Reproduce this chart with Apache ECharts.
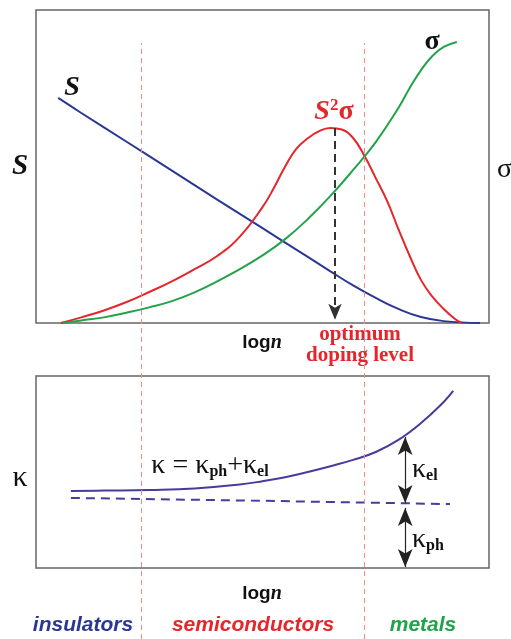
<!DOCTYPE html>
<html>
<head>
<meta charset="utf-8">
<style>
  html, body { margin: 0; padding: 0; background: #fff; }
  #chart { width: 511px; height: 639px; }
</style>
<script src="https://cdn.jsdelivr.net/npm/echarts@6/dist/echarts.min.js"></script>
</head>
<body>
<div id="chart"></div>
<script>
// top panel, x = log n, y = arbitrary units (0-100)
const seebeck = [[4.9, 71.9], [10, 67.1], [20, 57.9], [30, 48.7], [40, 39.4], [50, 30.3], [60, 21.1], [65, 16.5], [70, 12.0], [75, 8.0], [80, 4.5], [85, 1.9], [90, 0.6], [98, 0]]
const powerFactor = [[5.5, 0], [10, 1.8], [15, 4.0], [20, 6.7], [25, 9.9], [30, 13.3], [35, 17.2], [40, 21.4], [45, 27.6], [50, 37.0], [52.5, 43.1], [55, 50.0], [57.5, 55.7], [60, 59.0], [62.5, 61.3], [65, 62.3], [67.5, 61.8], [70, 59.1], [72.5, 53.4], [75, 46.3], [77.5, 39.0], [80, 30.0], [82.5, 21.4], [85, 13.7], [87.5, 8.4], [90, 4.5], [92.5, 1.3], [94, 0]]
const conductivity = [[6, 0], [10, 0.8], [15, 1.8], [20, 3.3], [25, 5.0], [30, 7.0], [35, 9.8], [40, 13.3], [45, 17.2], [50, 21.6], [55, 26.8], [60, 33.2], [65, 40.6], [70, 48.9], [75, 57.8], [80, 68.7], [82.5, 75.1], [85, 80.8], [87.5, 85.3], [90, 88.2], [92.9, 89.8]]
const optimumDoping = [66.0, 62.3]

// bottom panel
const kappaTotal = [[7.7, 40.1], [15, 40.3], [25, 40.6], [35, 41.4], [45, 43.5], [50, 45.2], [55, 47.3], [60, 50.0], [65, 53.0], [70, 56.3], [75, 60.4], [80, 66.7], [85, 75.5], [90, 86.5], [92.1, 92.2]]
const kappaLattice = [[7.7, 36.5], [50.0, 35.0], [91.4, 33.3]]
const kappaArrowX = 81.5
const kappaElRange = [68.2, 33.9]
const kappaPhRange = [31.3, 0.5]

// region borders and names
const regionBounds = [23.2, 72.4]
const regions = ['insulators', 'semiconductors', 'metals']

const serif = '"Liberation Serif", "DejaVu Serif", serif'
const sans = '"Liberation Sans", Arial, sans-serif'
const blue = '#2b3795'
const red = '#e5262b'
const green = '#22a34a'
const purple = '#4a3a9c'

const chart = echarts.init(document.getElementById('chart'))

function axis(gridIndex, max) {
  return { type: 'value', gridIndex: gridIndex, min: 0, max: max, show: false }
}

function txt(x, y, text, style) {
  return {
    type: 'text', x: x, y: y, silent: true,
    style: Object.assign({ text: text, align: 'center', verticalAlign: 'middle' }, style)
  }
}

function curve(name, data, color, extra) {
  return Object.assign({
    name: name, type: 'line', data: data, smooth: 0.45,
    symbol: 'none', z: 3, lineStyle: { color: color, width: 2 }
  }, extra)
}

const regionColors = [blue, red, green]
const regionX = [83, 253, 423]
const kappaRich = {
  k: { font: '28px ' + serif, fill: '#111' },
  s: { font: 'bold 16px ' + serif, fill: '#111', padding: [12, 0, 0, 0] }
}
const lognRich = {
  a: { font: 'bold 19px ' + sans, fill: '#111' },
  b: { font: 'bold italic 20px ' + serif, fill: '#111' }
}

chart.setOption({
  animation: false,
  grid: [
    { left: 36, top: 10, width: 453, height: 313, show: true, borderColor: '#666', borderWidth: 1.5 },
    { left: 36, top: 376, width: 453, height: 192, show: true, borderColor: '#666', borderWidth: 1.5 },
    { left: 36, top: 43, width: 453, bottom: 0 }
  ],
  xAxis: [axis(0, 100), axis(1, 100), axis(2, 100)],
  yAxis: [axis(0, 100), axis(1, 100), axis(2, 1)],
  series: [
    {
      type: 'line', xAxisIndex: 2, yAxisIndex: 2, data: [[0, 0]], symbol: 'none', z: 1,
      lineStyle: { opacity: 0 },
      markLine: {
        silent: true, symbol: 'none', label: { show: false },
        lineStyle: { color: '#f08a8a', width: 1, type: [5, 4] },
        data: regionBounds.map(v => ({ xAxis: v }))
      }
    },
    curve('S', seebeck, blue),
    curve('S2sigma', powerFactor, red, {
      markLine: {
        silent: true, symbol: ['none', 'arrow'], symbolSize: [10, 16], label: { show: false },
        lineStyle: { color: '#333', width: 2, type: [8, 5] },
        data: [[{ coord: optimumDoping }, { coord: [optimumDoping[0], 1.0] }]]
      }
    }),
    curve('sigma', conductivity, green),
    curve('kappa', kappaTotal, purple, { xAxisIndex: 1, yAxisIndex: 1 }),
    {
      name: 'kappa_ph', type: 'line', xAxisIndex: 1, yAxisIndex: 1, data: kappaLattice, symbol: 'none', z: 3,
      lineStyle: { color: purple, width: 2, type: [9, 6] },
      markLine: {
        silent: true, symbol: ['arrow', 'arrow'], symbolSize: [11, 18], label: { show: false },
        lineStyle: { color: '#222', width: 1.2, type: 'solid' },
        data: [
          [{ coord: [kappaArrowX, kappaElRange[0]] }, { coord: [kappaArrowX, kappaElRange[1]] }],
          [{ coord: [kappaArrowX, kappaPhRange[0]] }, { coord: [kappaArrowX, kappaPhRange[1]] }]
        ]
      }
    }
  ],
  graphic: [
    txt(20, 167, 'S', { font: 'bold italic 29px ' + serif, fill: '#111' }),
    txt(497, 170, 'σ', { font: '28px ' + serif, fill: '#111', align: 'left' }),
    txt(72, 88, 'S', { font: 'bold italic 28px ' + serif, fill: '#111' }),
    txt(432, 42, 'σ', { font: 'bold 28px ' + serif, fill: '#111' }),
    txt(334, 112, '{a|S}{b|2}{c|σ}', {
      fill: red,
      rich: {
        a: { font: 'bold italic 28px ' + serif, fill: red },
        b: { font: 'bold 17px ' + serif, fill: red, verticalAlign: 'top', padding: [0, 0, 12, 0] },
        c: { font: 'bold 28px ' + serif, fill: red }
      }
    }),
    txt(262, 343, '{a|log}{b|n}', { rich: lognRich }),
    txt(360, 335, 'optimum', { font: 'bold 21px ' + serif, fill: red }),
    txt(360, 356, 'doping level', { font: 'bold 21px ' + serif, fill: red }),
    txt(20, 478, 'κ', { font: '30px ' + serif, fill: '#111' }),
    txt(210, 466, '{k|κ = κ}{s|ph}{k|+κ}{s|el}', { rich: kappaRich }),
    txt(412, 470, '{k|κ}{s|el}', { align: 'left', rich: kappaRich }),
    txt(412, 540, '{k|κ}{s|ph}', { align: 'left', rich: kappaRich }),
    txt(262, 594, '{a|log}{b|n}', { rich: lognRich })
  ].concat(regions.map((r, i) => txt(regionX[i], 625, r, { font: 'bold italic 21px ' + sans, fill: regionColors[i] })))
})
</script>
</body>
</html>
